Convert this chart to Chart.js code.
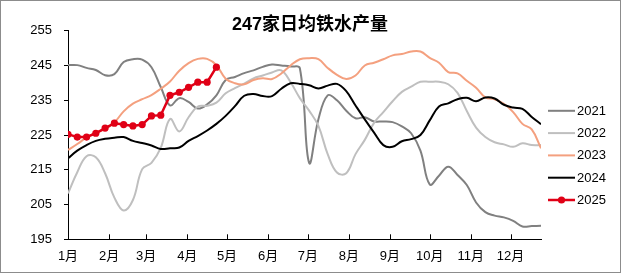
<!DOCTYPE html>
<html>
<head>
<meta charset="utf-8">
<script src="https://cdn.jsdelivr.net/npm/chart.js@4.4.1/dist/chart.umd.min.js"></script>
<style>
  html, body { margin: 0; padding: 0; background: #fff; }
  canvas { display: block; }
</style>
</head>
<body>
<canvas id="ironChart" width="621" height="273"></canvas>
<script>
// weekly points, day-of-year offsets
const weekDays = Array.from({ length: 52 }, (_, i) => i * 7);
const monthStarts = [0, 31, 59, 90, 120, 151, 181, 212, 243, 273, 304, 334];
const monthLabels = ['1月', '2月', '3月', '4月', '5月', '6月', '7月', '8月', '9月', '10月', '11月', '12月'];
const yTicks = [195, 205, 215, 225, 235, 245, 255];

const y2021 = [245.1, 245.1, 244.3, 243.7, 242.2, 242.5, 246.0, 246.8, 246.7, 244.5, 238.8, 233.5, 235.6, 234.5, 232.6, 233.8,
  236.4, 240.8, 241.7, 242.8, 243.6, 244.6, 245.3, 245.0, 244.7, 244.2, 217.0, 229.5, 236.4, 235.0, 232.0, 229.8,
  230.1, 228.9, 228.9, 228.7, 227.5, 225.5, 220.5, 210.8, 213.3, 215.9, 213.5, 210.6, 205.6, 202.8, 201.8, 201.3,
  200.3, 198.7, 198.8, 198.9];
const y2022 = [208.2, 214.3, 218.9, 218.6, 214.0, 207.0, 203.3, 206.3, 215.2, 217.0, 221.3, 229.6, 226.0, 230.1, 233.2, 233.4,
  234.3, 237.0, 238.5, 239.8, 241.3, 242.1, 243.0, 243.6, 240.2, 235.6, 232.0, 227.6, 219.5, 214.2, 214.0, 219.5,
  223.6, 228.5, 231.6, 234.7, 237.4, 238.9, 240.3, 240.3, 240.3, 239.6, 237.1, 231.9, 227.1, 224.4, 222.9, 222.3,
  221.6, 222.6, 222.1, 222.1];
const y2023 = [220.7, 222.4, 224.3, 225.7, 226.7, 228.6, 231.8, 234.0, 235.3, 236.5, 238.3, 240.4, 243.5, 245.7, 246.9, 246.9,
  245.1, 241.2, 239.9, 239.6, 240.8, 241.3, 241.1, 242.7, 245.0, 246.8, 247.1, 246.8, 244.3, 242.3, 241.1, 242.1,
  245.0, 245.8, 246.8, 247.9, 248.3, 249.0, 249.0, 247.2, 245.8, 243.1, 242.7, 240.6, 238.6, 235.8, 235.3, 234.0,
  231.6, 228.2, 226.6, 221.2];
const y2024 = [218.3, 220.5, 222.1, 223.3, 223.9, 224.2, 224.4, 223.3, 222.7, 222.0, 221.0, 221.2, 221.4, 223.3, 224.7, 226.3,
  228.2, 230.5, 233.3, 236.3, 236.8, 236.2, 236.2, 238.3, 239.9, 239.7, 239.3, 238.4, 239.2, 239.7, 237.6, 233.5,
  229.5, 225.7, 222.1, 221.6, 223.2, 223.8, 225.0, 229.2, 233.2, 234.1, 235.3, 235.7, 234.7, 235.8, 235.5, 233.7,
  232.9, 232.5, 230.2, 228.1];
const y2025 = [225.2, 224.4, 224.4, 225.5, 227.0, 228.4, 228.0, 227.6, 228.0, 230.5, 230.7, 236.4, 237.3, 238.7, 240.2, 240.2, 244.5];

const seriesNames = ['2021', '2022', '2023', '2024', '2025'];
const seriesColors = ['#808080', '#bfbfbf', '#f4a07f', '#000000', '#e00016'];

const FONT = '"Liberation Sans", Arial, "Noto Sans CJK SC", sans-serif';

function toPoints(vals) {
  return vals.map((v, i) => ({ x: weekDays[i], y: v }));
}

const allSeries = [y2021, y2022, y2023, y2024, y2025];
const datasets = allSeries.map((vals, i) => ({
  label: seriesNames[i],
  data: toPoints(vals),
  borderColor: seriesColors[i],
  backgroundColor: seriesColors[i],
  borderWidth: i === 4 ? 2.5 : 2,
  pointRadius: i === 4 ? 3.6 : 0,
  pointBorderWidth: 0,
  tension: i === 4 ? 0 : 0.4,
  order: 4 - i
}));

// title, legend, border and inner x ticks
const decorPlugin = {
  id: 'decor',
  afterDraw(chart) {
    const ctx = chart.ctx;
    const area = chart.chartArea;
    const xs = chart.scales.x;
    ctx.save();
    // inner tick marks on the x axis
    ctx.strokeStyle = '#000';
    ctx.lineWidth = 1;
    monthStarts.forEach(d => {
      const px = Math.round(xs.getPixelForValue(d)) + 0.5;
      ctx.beginPath();
      ctx.moveTo(px, area.bottom);
      ctx.lineTo(px, area.bottom - 5);
      ctx.stroke();
    });
    // title
    ctx.fillStyle = '#000';
    ctx.font = 'bold 18px ' + FONT;
    ctx.textAlign = 'center';
    ctx.textBaseline = 'middle';
    ctx.fillText('247家日均铁水产量', 310, 25);
    // legend
    ctx.font = '13px ' + FONT;
    ctx.textAlign = 'left';
    seriesNames.forEach((name, i) => {
      const y = 110.8 + i * 22.3;
      ctx.strokeStyle = seriesColors[i];
      ctx.lineWidth = i === 4 ? 2.5 : 2;
      ctx.beginPath();
      ctx.moveTo(548, y);
      ctx.lineTo(575, y);
      ctx.stroke();
      if (i === 4) {
        ctx.fillStyle = seriesColors[i];
        ctx.beginPath();
        ctx.arc(561.5, y, 3.6, 0, Math.PI * 2);
        ctx.fill();
      }
      ctx.fillStyle = '#000';
      ctx.fillText(name, 577, y + 0.5);
    });
    // outer border
    ctx.strokeStyle = '#8c8c8c';
    ctx.lineWidth = 1;
    ctx.strokeRect(0.5, 0.5, chart.width - 1, chart.height - 1);
    ctx.restore();
  }
};

const ctx = document.getElementById('ironChart').getContext('2d');

new Chart(ctx, {
  type: 'line',
  data: { datasets: datasets },
  options: {
    responsive: false,
    animation: false,
    devicePixelRatio: 1,
    layout: { padding: { top: 30.7, right: 80, left: 0, bottom: 0 } },
    plugins: {
      legend: { display: false },
      title: { display: false },
      tooltip: { enabled: false }
    },
    scales: {
      x: {
        type: 'linear',
        min: 0,
        max: 357,
        afterBuildTicks: scale => { scale.ticks = monthStarts.map(v => ({ value: v })); },
        afterFit: scale => { scale.height = 33.7; },
        ticks: {
          autoSkip: false,
          maxRotation: 0,
          padding: 9,
          color: '#000',
          font: { family: FONT, size: 13 },
          callback: value => monthLabels[monthStarts.indexOf(value)]
        },
        grid: { display: false, drawTicks: false },
        border: { display: true, color: '#000', width: 1 }
      },
      y: {
        min: 195,
        max: 255,
        afterBuildTicks: scale => { scale.ticks = yTicks.map(v => ({ value: v })); },
        afterFit: scale => { scale.width = 68; },
        ticks: {
          padding: 12,
          color: '#000',
          font: { family: FONT, size: 13 }
        },
        grid: { drawOnChartArea: false, drawTicks: true, tickLength: 4, color: '#000' },
        border: { display: true, color: '#000', width: 1 }
      }
    }
  },
  plugins: [decorPlugin]
});
</script>
</body>
</html>
